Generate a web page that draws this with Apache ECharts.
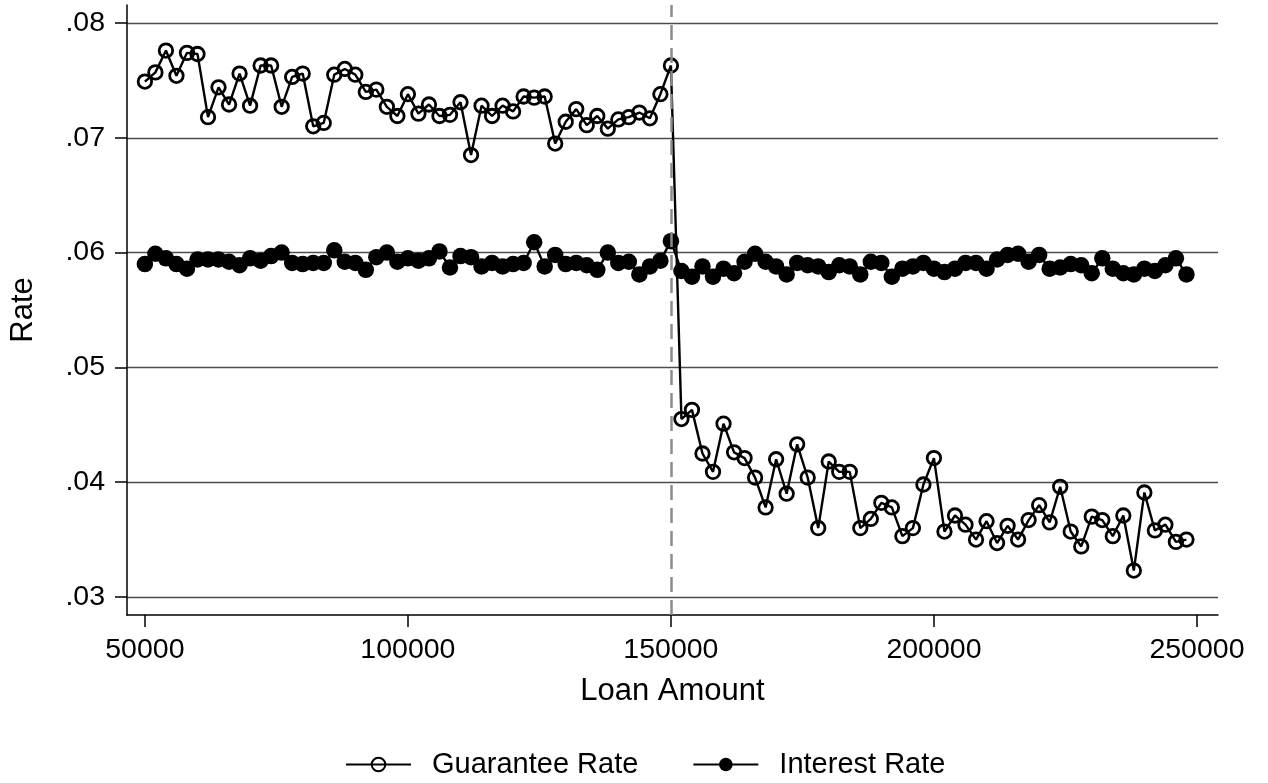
<!DOCTYPE html>
<html>
<head>
<meta charset="utf-8">
<script src="https://cdn.jsdelivr.net/npm/echarts@6/dist/echarts.min.js"></script>
<style>
  html, body { margin: 0; padding: 0; background: #fff; }
  #chart { width: 1268px; height: 783px; }
</style>
</head>
<body>
<div id="chart"></div>
<script>
// Loan amount bins (x values)
const loanAmounts = [
  50000, 52000, 54000, 56000, 58000, 60000, 62000, 64000, 66000, 68000,
  70000, 72000, 74000, 76000, 78000, 80000, 82000, 84000, 86000, 88000,
  90000, 92000, 94000, 96000, 98000, 100000, 102000, 104000, 106000, 108000,
  110000, 112000, 114000, 116000, 118000, 120000, 122000, 124000, 126000, 128000,
  130000, 132000, 134000, 136000, 138000, 140000, 142000, 144000, 146000, 148000,
  150000, 152000, 154000, 156000, 158000, 160000, 162000, 164000, 166000, 168000,
  170000, 172000, 174000, 176000, 178000, 180000, 182000, 184000, 186000, 188000,
  190000, 192000, 194000, 196000, 198000, 200000, 202000, 204000, 206000, 208000,
  210000, 212000, 214000, 216000, 218000, 220000, 222000, 224000, 226000, 228000,
  230000, 232000, 234000, 236000, 238000, 240000, 242000, 244000, 246000, 248000
];

// Mean guarantee rate per bin
const guaranteeRate = [
  .0749, .0757, .0776, .0754, .0774, .0773, .0718, .0744, .0729, .0756,
  .0728, .0763, .0763, .0727, .0753, .0756, .0710, .0713, .0755, .0760,
  .0755, .0740, .0742, .0727, .0719, .0738, .0721, .0729, .0719, .0720,
  .0731, .0685, .0728, .0719, .0728, .0723, .0736, .0735, .0736, .0695,
  .0714, .0725, .0711, .0719, .0708, .0716, .0718, .0722, .0717, .0738,
  .0763, .0455, .0463, .0425, .0409, .0451, .0426, .0421, .0404, .0378,
  .0420, .0390, .0433, .0404, .0360, .0418, .0409, .0409, .0360, .0368,
  .0382, .0378, .0353, .0360, .0398, .0421, .0357, .0371, .0363, .0350,
  .0366, .0347, .0362, .0350, .0367, .0380, .0365, .0396, .0357, .0344,
  .0370, .0367, .0353, .0371, .0323, .0391, .0358, .0363, .0348, .0350
];

// Mean interest rate per bin
const interestRate = [
  .0590, .0599, .0595, .0590, .0586, .0594, .0594, .0594, .0592, .0589,
  .0595, .0593, .0597, .0600, .0591, .0590, .0591, .0591, .0602, .0592,
  .0591, .0585, .0596, .0600, .0592, .0595, .0593, .0595, .0601, .0587,
  .0597, .0596, .0588, .0591, .0588, .0590, .0591, .0609, .0588, .0598,
  .0590, .0591, .0589, .0585, .0600, .0591, .0592, .0581, .0588, .0593,
  .0610, .0584, .0579, .0588, .0579, .0586, .0582, .0592, .0599, .0592,
  .0588, .0581, .0591, .0589, .0588, .0583, .0589, .0588, .0581, .0592,
  .0591, .0579, .0586, .0588, .0591, .0586, .0583, .0586, .0591, .0591,
  .0586, .0594, .0598, .0599, .0592, .0598, .0586, .0587, .0590, .0589,
  .0582, .0595, .0586, .0582, .0581, .0586, .0584, .0589, .0595, .0581
];

// Tick values
const xTicks = [50000, 100000, 150000, 200000, 250000];
const yTicks = [0.03, 0.04, 0.05, 0.06, 0.07, 0.08];
const cutoff = 150000;

const FONT = '"Liberation Sans", Arial, Helvetica, sans-serif';

const pairs = (vals) => loanAmounts.map((x, i) => [x, vals[i]]);

const chart = echarts.init(document.getElementById('chart'), null, { renderer: 'canvas' });

chart.setOption({
  animation: false,
  backgroundColor: '#ffffff',
  grid: { left: 125, right: 50, top: 5, bottom: 168, containLabel: false },
  xAxis: {
    type: 'value',
    min: 46600,
    max: 254000,
    name: 'Loan Amount',
    nameLocation: 'middle',
    nameGap: 61,
    nameTextStyle: { fontFamily: FONT, fontSize: 31, color: '#000' },
    axisLine: { show: true, onZero: false, lineStyle: { color: '#000', width: 1.5 } },
    axisTick: { show: true, length: 12, lineStyle: { color: '#000', width: 1.5 }, customValues: xTicks },
    axisLabel: {
      fontFamily: FONT, fontSize: 28.5, color: '#000', margin: 21,
      customValues: xTicks,
      formatter: (v) => String(v)
    },
    splitLine: { show: false }
  },
  yAxis: {
    type: 'value',
    min: 0.02843,
    max: 0.08157,
    name: 'Rate',
    nameLocation: 'middle',
    nameRotate: 90,
    nameGap: 88,
    nameTextStyle: { fontFamily: FONT, fontSize: 31, color: '#000' },
    axisLine: { show: true, onZero: false, lineStyle: { color: '#000', width: 1.5 } },
    axisTick: { show: true, length: 12, lineStyle: { color: '#000', width: 1.5 }, customValues: yTicks },
    axisLabel: {
      fontFamily: FONT, fontSize: 28.5, color: '#000', margin: 22,
      customValues: yTicks,
      formatter: (v) => v.toFixed(2).replace(/^0/, '')
    },
    splitLine: { show: true, lineStyle: { color: '#4d4d4d', width: 1.4 } }
  },
  legend: {
    bottom: -1,
    left: 340,
    itemWidth: 65,
    itemHeight: 17,
    itemGap: 54,
    textStyle: { fontFamily: FONT, fontSize: 29, color: '#000', padding: [0, 0, 0, 16] },
    data: ['Guarantee Rate', 'Interest Rate']
  },
  series: [
    {
      name: 'Guarantee Rate',
      type: 'line',
      data: pairs(guaranteeRate),
      symbol: 'circle',
      symbolSize: 13.5,
      showAllSymbol: true,
      z: 3,
      lineStyle: { color: '#000', width: 2.4 },
      itemStyle: { color: 'rgba(255,255,255,0)', borderColor: '#000', borderWidth: 2.8 },
      markLine: {
        silent: true,
        symbol: ['none', 'none'],
        label: { show: false },
        lineStyle: { color: '#8c8c8c', width: 2.5, type: [15, 8] },
        data: [{ xAxis: cutoff }]
      }
    },
    {
      name: 'Interest Rate',
      type: 'line',
      data: pairs(interestRate),
      symbol: 'circle',
      symbolSize: 16.5,
      showAllSymbol: true,
      z: 4,
      lineStyle: { color: '#000', width: 2.4 },
      itemStyle: { color: '#000', borderColor: '#000', borderWidth: 0 }
    }
  ]
});
</script>
</body>
</html>
